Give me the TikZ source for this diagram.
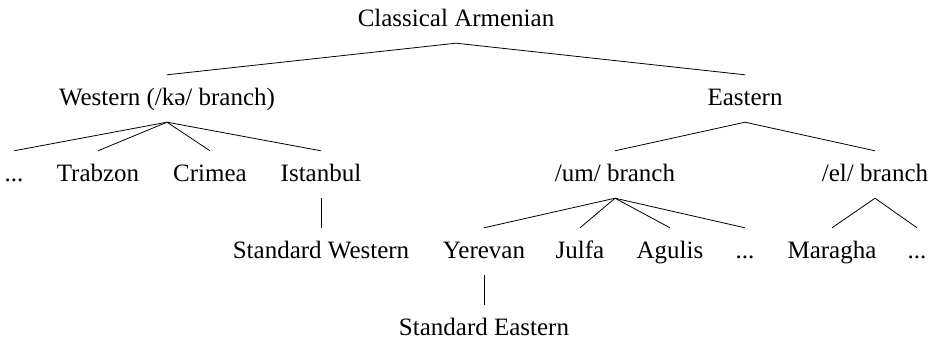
\documentclass[tikz,border=0pt]{standalone}
\usepackage{fontspec}
\setmainfont{Liberation Serif}
\usepackage{tikz}

\tikzset{
  lang/.style={font=\fontsize{25}{29}\selectfont, anchor=base,
    text height=13pt, text depth=0pt, inner ysep=17pt, inner xsep=0pt},
  branch/.style={draw, line width=0.8pt}
}

\begin{document}
\begin{tikzpicture}[x=1pt, y=-1pt]
        \useasboundingbox (0,0) rectangle (937,340);

        \node[lang] (ca)     at (456,26)  {Classical Armenian};

        \node[lang] (west)   at (167,105) {Western (/kə/ branch)};
        \node[lang] (east)   at (745,105) {Eastern};

        \node[lang] (wdots)  at (14,181)  {...};
        \node[lang] (trab)   at (98,181)  {Trabzon};
        \node[lang] (crim)   at (210,181) {Crimea};
        \node[lang] (ist)    at (321,181) {Istanbul};
        \node[lang] (um)     at (615,181) {/um/ branch};
        \node[lang] (el)     at (875,181) {/el/ branch};

        \node[lang] (stdw)   at (321,258) {Standard Western};
        \node[lang] (yer)    at (484,258) {Yerevan};
        \node[lang] (jul)    at (580,258) {Julfa};
        \node[lang] (agu)    at (670,258) {Agulis};
        \node[lang] (umdots) at (745,258) {...};
        \node[lang] (mar)    at (832,258) {Maragha};
        \node[lang] (eldots) at (917,258) {...};

        \node[lang] (stde)   at (484,335) {Standard Eastern};

        \path[branch]
        (ca.south) edge (west.north)
        (ca.south) edge (east.north)
        (west.south) edge (wdots.north)
        (west.south) edge (trab.north)
        (west.south) edge (crim.north)
        (west.south) edge (ist.north)
        (east.south) edge (um.north)
        (east.south) edge (el.north)
        (ist.south) edge (stdw.north)
        (um.south) edge (yer.north)
        (um.south) edge (jul.north)
        (um.south) edge (agu.north)
        (um.south) edge (umdots.north)
        (el.south) edge (mar.north)
        (el.south) edge (eldots.north)
        (yer.south) edge (stde.north);

    \end{tikzpicture}
\end{document}
